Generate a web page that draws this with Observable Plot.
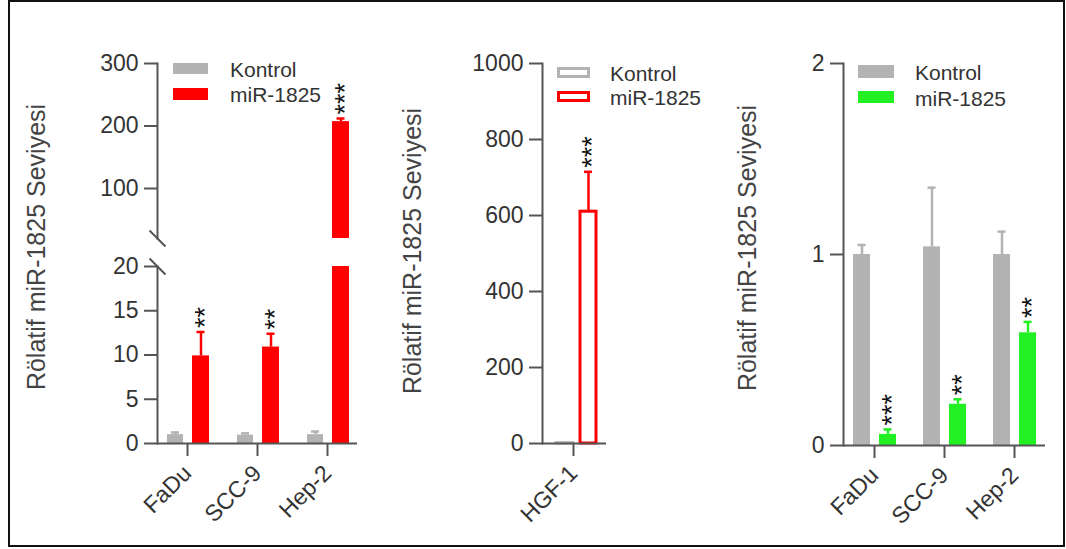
<!DOCTYPE html>
<html>
<head>
<meta charset="utf-8">
<script src="https://cdn.jsdelivr.net/npm/d3@7"></script>
<script src="https://cdn.jsdelivr.net/npm/@observablehq/plot@0.6"></script>
<style>
  html, body { margin: 0; padding: 0; background: #fff; }
  #root { position: relative; width: 1066px; height: 549px; overflow: hidden; background: #fff;
          font-family: "Liberation Sans", Arial, sans-serif; }
  #root svg { position: absolute; left: 0; top: 0; }
  .border { position: absolute; left: 8px; top: 0px; width: 1053px; height: 543px; border: 2px solid #111; }
  .ylab { position: absolute; white-space: nowrap; font-size: 25px; color: #444; line-height: 1;
          transform: translate(-50%, -50%) rotate(-90deg); }
  .sw { position: absolute; box-sizing: border-box; }
  .lt { position: absolute; font-size: 21px; color: #333; line-height: 1; transform: translateY(-50%); white-space: nowrap; }
</style>
</head>
<body>
<div id="root"><div class="border"></div></div>
<script>
// ---------- data ----------
const seriesNames = ["Kontrol", "miR-1825"];
const yLabel = "Rölatif miR-1825 Seviyesi";

// Panel A (broken axis)
const cellsA = ["FaDu", "SCC-9", "Hep-2"];
const kontrolA = [1.0, 0.95, 1.0];
const kontrolAErr = [0.25, 0.2, 0.35];
const mirA = [9.9, 10.9, 207];
const mirAErr = [2.7, 1.5, 5];
const starsA = ["**", "**", "***"];
const ticksALow = [0, 5, 10, 15, 20];
const ticksAHigh = [100, 200, 300];

// Panel B
const cellsB = ["HGF-1"];
const kontrolB = [1];
const kontrolBErr = [0];
const mirB = [610];
const mirBErr = [105];
const starsB = ["***"];
const ticksB = [0, 200, 400, 600, 800, 1000];

// Panel C
const cellsC = ["FaDu", "SCC-9", "Hep-2"];
const kontrolC = [1.0, 1.04, 1.0];
const kontrolCErr = [0.05, 0.31, 0.12];
const mirC = [0.058, 0.216, 0.59];
const mirCErr = [0.026, 0.026, 0.057];
const starsC = ["***", "**", "**"];
const ticksC = [0, 1, 2];

// ---------- styling ----------
const GREY = "#b3b3b3", RED = "#fe0000", GREEN = "#22f022";
const AXIS = "#555", TEXT = "#333";
const FONT = "Liberation Sans, Arial, sans-serif";
const W = 1066, H = 549;

function rows(cells, vals, errs) {
  return cells.map((c, i) => ({cell: c, v: vals[i], e: errs[i]}));
}
function starRows(cells, vals, errs, stars) {
  return cells.map((c, i) => ({cell: c, top: vals[i] + errs[i], s: stars[i]}));
}

const half = 35;
function groupMarks(g, clip, yFilter) {
  const c = (g.a + g.b) / 2;
  const data = yFilter ? g.data.filter(yFilter) : g.data;
  const barOpts = {
    x: "cell", y: "v", insetLeft: half + g.a, insetRight: half - g.b, clip
  };
  if (g.outline) Object.assign(barOpts, {fill: "white", stroke: g.color, strokeWidth: 3});
  else Object.assign(barOpts, {fill: g.color});
  return [
    Plot.barY(g.data, barOpts),
    Plot.ruleX(data.filter(d => d.e > 0), {x: "cell", y1: "v", y2: d => d.v + d.e, dx: c, stroke: g.color, strokeWidth: 2.5, clip}),
    Plot.tickY(data.filter(d => d.e > 0), {x: "cell", y: d => d.v + d.e, insetLeft: half + c - 4, insetRight: half - c - 4, stroke: g.color, strokeWidth: 2.5, clip})
  ];
}
function starMarks(data, c, filter) {
  return Plot.text(filter ? data.filter(filter) : data, {
    x: "cell", y: "top", text: "s", rotate: -90, textAnchor: "start",
    dx: c + 4, dy: -4, fontSize: 27, fill: "#111"
  });
}
function yAxis(ticks) {
  return Plot.axisY({ticks, tickSize: 13, tickPadding: 6, label: null, stroke: AXIS, strokeWidth: 2,
    fill: TEXT, fontSize: 23, tickFormat: d => String(d)});
}
function xAxis() {
  return Plot.axisX({tickSize: 13, tickPadding: 13, tickRotate: -45, label: null, stroke: AXIS,
    strokeWidth: 2, fill: TEXT, fontSize: 23, textStroke: "none"});
}
const breakSymbol = {
  draw(ctx, size) {
    const s = Math.sqrt(size) / 2;
    ctx.moveTo(-s, -s);
    ctx.lineTo(s, s);
  }
};
const baseStyle = {fontFamily: FONT, fontSize: "22px", color: TEXT, background: "transparent", overflow: "visible"};

const root = document.getElementById("root");

// ---------- Panel A ----------
const A_ctrl = {data: rows(cellsA, kontrolA, kontrolAErr), a: -20, b: -4, color: GREY};
const A_mir = {data: rows(cellsA, mirA, mirAErr), a: 5, b: 22, color: RED};
const A_stars = starRows(cellsA, mirA, mirAErr, starsA);

const aTop = Plot.plot({
  width: W, height: H, marginLeft: 157, marginRight: W - 357, marginTop: 63, marginBottom: H - 238,
  style: baseStyle,
  x: {type: "band", domain: cellsA, range: [152, 362], padding: 0, axis: null},
  y: {domain: [20, 300]},
  marks: [
    ...groupMarks(A_ctrl, true),
    ...groupMarks(A_mir, true),
    starMarks(A_stars, 13.5, d => d.top > 20),
    yAxis(ticksAHigh),
    Plot.frame({anchor: "left", stroke: AXIS, strokeWidth: 2}),
    Plot.dot([20], {y: d => d, frameAnchor: "left", symbol: breakSymbol, r: 9, stroke: AXIS, strokeWidth: 2, fill: "none"})
  ]
});
root.appendChild(aTop);

const aLow = Plot.plot({
  width: W, height: H, marginLeft: 157, marginRight: W - 357, marginTop: 266, marginBottom: H - 443,
  style: baseStyle,
  x: {type: "band", domain: cellsA, range: [152, 362], padding: 0},
  y: {domain: [0, 20]},
  marks: [
    ...groupMarks(A_ctrl, true),
    ...groupMarks(A_mir, true, d => d.v + d.e <= 20),
    starMarks(A_stars, 13.5, d => d.top <= 20),
    yAxis(ticksALow),
    xAxis(),
    Plot.frame({anchor: "left", stroke: AXIS, strokeWidth: 2}),
    Plot.ruleY([0], {stroke: AXIS, strokeWidth: 2}),
    Plot.dot([20], {y: d => d, frameAnchor: "left", symbol: breakSymbol, r: 9, stroke: AXIS, strokeWidth: 2, fill: "none"})
  ]
});
root.appendChild(aLow);

// ---------- Panel B ----------
const B_ctrl = {data: rows(cellsB, kontrolB, kontrolBErr), a: -17, b: 0, color: GREY, outline: true};
const B_mir = {data: rows(cellsB, mirB, mirBErr), a: 7, b: 23, color: RED, outline: true};
const B_stars = starRows(cellsB, mirB, mirBErr, starsB);
const pB = Plot.plot({
  width: W, height: H, marginLeft: 542, marginRight: W - 606, marginTop: 63, marginBottom: H - 443,
  style: baseStyle,
  x: {type: "band", domain: cellsB, range: [538, 608], padding: 0},
  y: {domain: [0, 1000]},
  marks: [
    ...groupMarks(B_ctrl, false),
    ...groupMarks(B_mir, false),
    starMarks(B_stars, 15),
    yAxis(ticksB),
    xAxis(),
    Plot.frame({anchor: "left", stroke: AXIS, strokeWidth: 2}),
    Plot.ruleY([0], {stroke: AXIS, strokeWidth: 2})
  ]
});
root.appendChild(pB);

// ---------- Panel C ----------
const C_ctrl = {data: rows(cellsC, kontrolC, kontrolCErr), a: -21, b: -4, color: GREY};
const C_mir = {data: rows(cellsC, mirC, mirCErr), a: 5, b: 22, color: GREEN};
const C_stars = starRows(cellsC, mirC, mirCErr, starsC);
const pC = Plot.plot({
  width: W, height: H, marginLeft: 843, marginRight: W - 1045, marginTop: 63, marginBottom: H - 445,
  style: baseStyle,
  x: {type: "band", domain: cellsC, range: [838, 1049], padding: 0},
  y: {domain: [0, 2]},
  marks: [
    ...groupMarks(C_ctrl, false),
    ...groupMarks(C_mir, false),
    starMarks(C_stars, 13.5),
    yAxis(ticksC),
    xAxis(),
    Plot.frame({anchor: "left", stroke: AXIS, strokeWidth: 2}),
    Plot.ruleY([0], {stroke: AXIS, strokeWidth: 2})
  ]
});
root.appendChild(pC);

// ---------- y labels ----------
[[36, 247], [412, 251], [747, 248]].forEach(([cx, cy]) => {
  const d = document.createElement("div");
  d.className = "ylab";
  d.style.left = cx + "px";
  d.style.top = cy + "px";
  d.textContent = yLabel;
  root.appendChild(d);
});

// ---------- legends ----------
const legends = [
  {x: 173, w: 35, tx: 230, rows: [[63, 11, 69], [88, 12, 94]], colors: [GREY, RED], outline: false},
  {x: 557, w: 33, tx: 610, rows: [[67, 11, 73], [91, 11, 97]], colors: [GREY, RED], outline: true},
  {x: 858, w: 36, tx: 915, rows: [[65, 13, 72], [91, 12, 98]], colors: [GREY, GREEN], outline: false}
];
legends.forEach(L => {
  L.rows.forEach(([top, h, cy], i) => {
    const s = document.createElement("div");
    s.className = "sw";
    s.style.left = L.x + "px"; s.style.top = top + "px";
    s.style.width = L.w + "px"; s.style.height = h + "px";
    if (L.outline) s.style.border = "3px solid " + L.colors[i];
    else s.style.background = L.colors[i];
    root.appendChild(s);
    const t = document.createElement("div");
    t.className = "lt";
    t.style.left = L.tx + "px"; t.style.top = cy + "px";
    t.textContent = seriesNames[i];
    root.appendChild(t);
  });
});
</script>
</body>
</html>
